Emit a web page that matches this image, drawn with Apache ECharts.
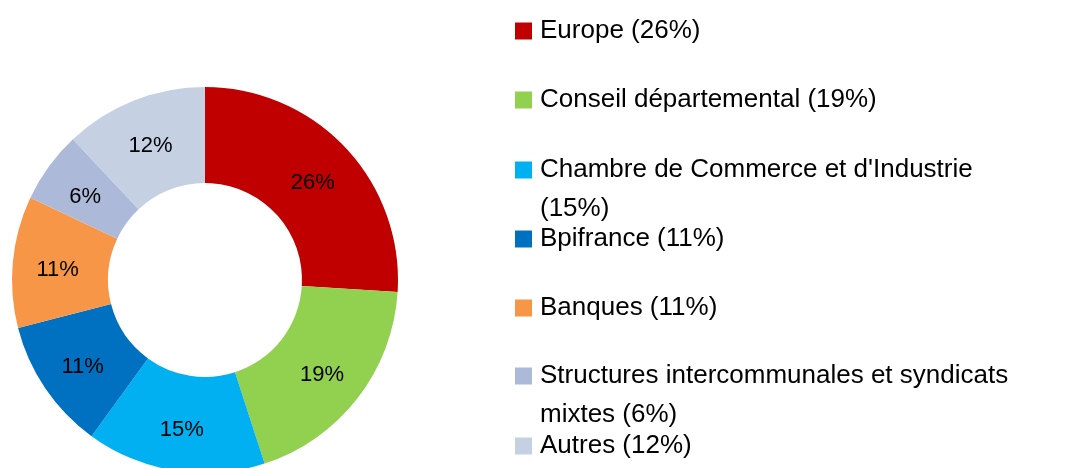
<!DOCTYPE html>
<html>
<head>
<meta charset="utf-8">
<script src="https://cdn.jsdelivr.net/npm/echarts@6/dist/echarts.min.js"></script>
<style>
  html, body { margin: 0; padding: 0; background: #fff; }
  #chart { width: 1077px; height: 468px; }
</style>
</head>
<body>
<div id="chart"></div>
<script>
// Répartition des financements (%)
const sources = ['Europe', 'Conseil départemental', "Chambre de Commerce et d'Industrie",
                 'Bpifrance', 'Banques', 'Structures intercommunales et syndicats mixtes', 'Autres'];
const shares = [26, 19, 15, 11, 11, 6, 12];
const colors = ['#C00000', '#92D050', '#00B0F0', '#0070C0', '#F79646', '#ACB9D9', '#C5D0E3'];

// centre vertical de chaque entrée de légende (px) et retour à la ligne
const legendY = [30, 99, 169, 238, 307, 375, 445];
const legendWrap = [false, false, true, false, false, true, false];
const LINE = 39;

const chart = echarts.init(document.getElementById('chart'));

// une légende par entrée : les entrées sur deux lignes gardent le carré sur la 1re ligne
// (ligne vide en tête => la 1re ligne de texte est centrée sur le carré)
const legends = sources.map((name, i) => ({
    data: [name],
    orient: 'vertical',
    left: 515,
    top: legendY[i] - (legendWrap[i] ? LINE * 1.5 : LINE / 2) + 1,
    padding: 0,
    icon: 'rect',
    itemWidth: 17,
    itemHeight: 17,
    selectedMode: false,
    formatter: n => (legendWrap[i] ? '\n' : '') + n + ' (' + shares[sources.indexOf(n)] + '%)',
    textStyle: {
        fontFamily: 'Liberation Sans',
        fontSize: 26,
        color: '#000',
        lineHeight: LINE,
        width: 490,
        overflow: 'break',
        padding: [0, 0, 0, 3]
    }
}));

chart.setOption({
    animation: false,
    legend: legends,
    series: [{
        type: 'pie',
        center: [205, 280],
        radius: [97, 193],
        startAngle: 90,
        clockwise: true,
        avoidLabelOverlap: false,
        emphasis: { scale: false },
        label: {
            show: true,
            position: 'inside',
            formatter: '{v|{c}%}',
            rich: {
                v: {
                    color: '#000',
                    fontFamily: 'Liberation Sans',
                    fontSize: 22,
                    padding: [8, 0, 0, 0]
                }
            }
        },
        labelLine: { show: false },
        itemStyle: { borderWidth: 0 },
        data: sources.map((name, i) => ({
            name: name,
            value: shares[i],
            itemStyle: { color: colors[i] }
        }))
    }]
});

window.addEventListener('resize', () => chart.resize());
</script>
</body>
</html>
